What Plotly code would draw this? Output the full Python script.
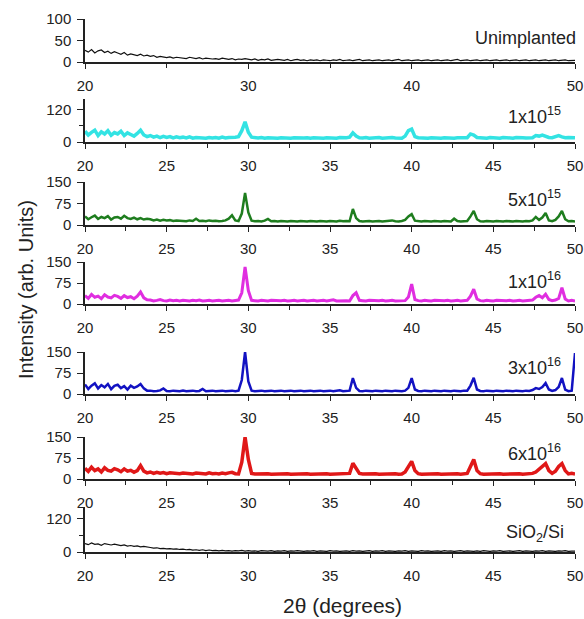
import plotly.graph_objects as go

# 2-theta grid (degrees), 0.2 degree steps from 20 to 50
two_theta = [round(20 + 0.2 * i, 1) for i in range(151)]

unimplanted = [
    27, 23, 29, 21, 26, 28, 22, 25, 20, 24,
    21, 18, 22, 16, 19, 17, 15, 18, 14, 16,
    13, 15, 11, 13, 12, 10, 12, 9, 11, 10,
    10, 8, 11, 9, 8, 10, 7, 9, 8, 7,
    8, 6, 9, 7, 6, 8, 5, 7, 6, 8,
    6, 5, 7, 4, 6, 5, 7, 4, 5, 6,
    5, 4, 6, 3, 5, 6, 4, 5, 3, 5,
    4, 5, 3, 5, 4, 3, 5, 4, 6, 3,
    4, 5, 3, 4, 6, 3, 4, 5, 3, 4,
    5, 3, 4, 5, 3, 4, 6, 3, 4, 5,
    3, 4, 5, 3, 4, 5, 3, 4, 5, 3,
    4, 5, 3, 4, 6, 3, 4, 5, 3, 4,
    5, 3, 4, 5, 3, 4, 5, 3, 4, 5,
    3, 4, 5, 3, 4, 5, 3, 4, 5, 3,
    4, 5, 3, 4, 5, 3, 4, 5, 3, 4,
    4,
]

dose_1e15 = [
    40, 26, 36, 44, 24, 38, 30, 42, 25, 35,
    30, 40, 24, 34, 28, 22, 32, 44, 26, 20,
    24, 18, 22, 16, 21, 17, 20, 15, 19, 16,
    18, 15, 19, 14, 17, 16, 18, 14, 17, 15,
    17, 14, 18, 15, 17, 16, 18, 20, 42, 75,
    36, 18, 16, 15, 17, 14, 16, 15, 17, 14,
    16, 15, 17, 14, 16, 15, 17, 15, 16, 14,
    16, 15, 17, 14, 16, 15, 16, 14, 17, 15,
    16, 18, 34, 22, 16, 15, 17, 14, 16, 15,
    17, 14, 16, 15, 17, 15, 16, 14, 22, 42,
    48, 20, 16, 15, 17, 14, 16, 15, 17, 14,
    16, 15, 17, 14, 16, 15, 17, 16, 30, 26,
    17, 15, 16, 14, 17, 15, 16, 14, 17, 15,
    16, 14, 17, 15, 16, 15, 17, 16, 24, 22,
    26, 20, 17, 16, 20, 24, 19, 16, 17, 15,
    16,
]

dose_5e15 = [
    30, 20, 27, 33, 21, 28, 24, 31, 19, 26,
    28, 22, 32, 24, 21, 26, 20, 24, 19, 22,
    20, 16, 19, 15, 18, 16, 17, 14, 16, 15,
    15, 13, 16, 14, 22, 14, 15, 13, 16, 14,
    15, 13, 14, 16, 22, 34, 16, 14, 40, 112,
    44, 15, 13, 14, 12, 15, 21, 13, 14, 12,
    14, 13, 12, 14, 13, 12, 14, 13, 12, 14,
    13, 12, 14, 13, 12, 14, 13, 12, 15, 13,
    14, 13, 56, 24, 14, 12, 13, 14, 12, 13,
    14, 12, 13, 14, 16, 13, 12, 14, 18, 30,
    38, 15, 13, 12, 14, 13, 12, 14, 13, 12,
    14, 13, 12, 22, 14, 12, 13, 14, 30, 49,
    20, 13, 12, 14, 13, 12, 14, 13, 12, 14,
    13, 12, 14, 13, 12, 14, 13, 16, 28, 18,
    26, 42, 16, 13, 18, 30, 49, 20, 13, 14,
    12,
]

dose_1e16 = [
    30, 20, 34, 24, 28, 19, 33, 25, 22, 31,
    27, 20, 30, 23, 26, 19, 28, 43, 22, 15,
    14, 11, 13, 16, 12, 11, 14, 12, 13, 11,
    13, 12, 11, 13, 12, 14, 11, 12, 13, 11,
    12, 13, 11, 12, 13, 11, 12, 14, 40, 132,
    48, 13, 12, 11, 13, 12, 11, 13, 12, 11,
    12, 13, 11, 12, 13, 11, 12, 13, 11, 12,
    13, 11, 12, 13, 11, 12, 15, 11, 12, 13,
    12, 11, 30, 40, 13, 12, 11, 13, 12, 11,
    12, 13, 11, 12, 13, 11, 12, 13, 12, 25,
    71, 16, 12, 11, 13, 12, 11, 13, 12, 11,
    12, 13, 11, 12, 13, 11, 12, 13, 28, 53,
    18, 12, 11, 13, 12, 11, 13, 12, 11, 12,
    13, 11, 12, 13, 11, 12, 13, 14, 24, 30,
    22, 35, 16, 12, 14, 20, 58, 18, 11, 13,
    11,
]

dose_3e16 = [
    34, 18, 30, 38, 20, 32, 24, 36, 17, 29,
    33, 21, 28, 16, 30, 22, 27, 36, 20, 12,
    12, 10, 11, 13, 20, 11, 10, 12, 11, 10,
    12, 10, 11, 12, 10, 11, 18, 10, 11, 12,
    10, 11, 12, 10, 11, 12, 10, 12, 50, 150,
    45, 12, 10, 11, 12, 10, 11, 12, 10, 11,
    12, 10, 11, 12, 10, 11, 12, 10, 11, 12,
    10, 11, 12, 10, 11, 12, 10, 11, 13, 10,
    11, 12, 57, 22, 11, 10, 12, 11, 10, 12,
    11, 10, 12, 11, 10, 12, 11, 10, 12, 22,
    57, 16, 11, 10, 12, 11, 10, 12, 11, 10,
    12, 11, 10, 12, 11, 10, 12, 12, 30, 58,
    16, 11, 10, 12, 11, 10, 12, 11, 10, 12,
    11, 10, 12, 11, 10, 12, 11, 14, 21, 18,
    25, 39, 16, 11, 14, 25, 57, 16, 10, 12,
    146,
]

dose_6e16 = [
    38, 27, 42, 30, 36, 25, 40, 31, 28, 37,
    33, 26, 36, 28, 31, 24, 30, 48, 28, 22,
    25, 20, 24, 21, 23, 19, 22, 20, 21, 19,
    21, 19, 20, 18, 21, 19, 20, 18, 22, 19,
    20, 18, 21, 19, 22, 24, 19, 18, 60, 150,
    70, 20, 18, 19, 17, 18, 19, 17, 18, 19,
    17, 18, 19, 17, 18, 19, 17, 18, 19, 17,
    18, 19, 17, 18, 19, 17, 18, 19, 20, 18,
    19, 20, 56, 40, 20, 18, 19, 17, 18, 19,
    17, 18, 19, 17, 18, 19, 17, 18, 25, 45,
    63, 30, 19, 17, 18, 19, 17, 18, 19, 17,
    18, 19, 17, 18, 19, 17, 18, 20, 45, 70,
    30, 19, 17, 18, 19, 17, 18, 19, 17, 18,
    19, 17, 18, 19, 17, 18, 19, 20, 25, 35,
    45, 55, 30, 20, 28, 45, 55, 30, 18, 20,
    18,
]

sio2_si = [
    30, 26, 32, 27, 29, 24, 30, 27, 25, 28,
    26, 23, 25, 21, 23, 20, 22, 18, 20, 17,
    16, 14, 15, 12, 13, 11, 12, 10, 11, 9,
    10, 8, 9, 7, 8, 6, 8, 5, 7, 5,
    6, 4, 6, 4, 5, 3, 5, 4, 6, 3,
    5, 3, 4, 2, 5, 4, 3, 5, 2, 4,
    3, 5, 2, 4, 3, 5, 4, 2, 4, 3,
    5, 2, 4, 3, 2, 5, 3, 4, 2, 3,
    4, 2, 5, 3, 4, 2, 3, 5, 2, 4,
    3, 5, 2, 4, 3, 2, 4, 3, 5, 2,
    4, 3, 2, 5, 3, 4, 2, 3, 4, 2,
    5, 3, 4, 2, 3, 5, 2, 4, 3, 2,
    4, 2, 5, 3, 2, 4, 3, 5, 2, 3,
    4, 2, 3, 5, 2, 4, 3, 2, 4, 3,
    5, 2, 4, 3, 2, 4, 3, 5, 2, 3,
    3,
]

labels = ["Unimplanted", "1x10<sup>15</sup>", "5x10<sup>15</sup>", "1x10<sup>16</sup>",
          "3x10<sup>16</sup>", "6x10<sup>16</sup>", "SiO<sub>2</sub>/Si"]
series = [unimplanted, dose_1e15, dose_5e15, dose_1e16, dose_3e16, dose_6e16, sio2_si]
colors = ["#111111", "#33e3e3", "#1e7d1e", "#e02ee0", "#1212c2", "#e01818", "#111111"]
widths = [1.2, 3.5, 2.5, 3, 2.5, 3.5, 1.2]
y_ranges = [[0, 100], [0, 160], [0, 150], [0, 150], [0, 150], [0, 150], [0, 160]]
y_ticks = [[0, 50, 100], [0, 120], [0, 75, 150], [0, 75, 150], [0, 75, 150], [0, 75, 150], [0, 120]]
y_minor = [[], [60], [], [], [], [], [60]]

W, H = 584, 619
ML, MR = 85, 9
# panel pixel extents (top, bottom)
panels_px = [(19, 62), (99, 142), (182, 225), (262, 304), (352, 394), (437, 479), (507, 552)]
label_y_px = [38, 116, 198, 280, 366, 452, 533]
label_x = [578, 563, 563, 563, 563, 563, 566]

FONT = "Liberation Sans, Arial, sans-serif"
INK = "#222222"

fig = go.Figure()
layout = dict(
    width=W, height=H,
    margin=dict(l=ML, r=MR, t=0, b=0, autoexpand=False),
    paper_bgcolor="white", plot_bgcolor="white",
    showlegend=False,
    font=dict(family=FONT, size=15, color=INK),
)

for i, (ys, c, w) in enumerate(zip(series, colors, widths)):
    n = i + 1
    xa = "x" if n == 1 else f"x{n}"
    ya = "y" if n == 1 else f"y{n}"
    fig.add_trace(go.Scatter(x=two_theta, y=ys, mode="lines", xaxis=xa, yaxis=ya,
                             line=dict(color=c, width=w)))
    top, bot = panels_px[i]
    dom = [1 - bot / H, 1 - top / H]
    if n == 1:
        xdt, xminor = 10, 5
    else:
        xdt, xminor = 5, 2.5
    layout[f"xaxis{'' if n == 1 else n}"] = dict(
        domain=[0, 1], anchor=ya, range=[20, 50], automargin=False,
        tickmode="linear", tick0=20, dtick=xdt,
        ticks="outside", ticklen=5, tickwidth=1.2, tickcolor=INK,
        minor=dict(tick0=20, dtick=xminor, ticks="outside", ticklen=4, tickwidth=1.2, tickcolor=INK),
        showline=True, linecolor=INK, linewidth=1.5,
        showgrid=False, zeroline=False,
        tickfont=dict(size=15), ticklabelstandoff=4, ticklabeloverflow="allow",
    )
    ydict = dict(
        domain=dom, anchor=xa, range=y_ranges[i], automargin=False,
        tickmode="array", tickvals=y_ticks[i],
        ticks="outside", ticklen=6, tickwidth=1.2, tickcolor=INK,
        showline=True, linecolor=INK, linewidth=1.5,
        showgrid=False, zeroline=False,
        tickfont=dict(size=15), ticklabelstandoff=3, ticklabeloverflow="allow",
    )
    if y_minor[i]:
        ydict["minor"] = dict(tickmode="array", tickvals=y_minor[i], ticks="outside",
                              ticklen=4, tickwidth=1.2, tickcolor=INK)
    layout[f"yaxis{'' if n == 1 else n}"] = ydict

PW = W - ML - MR
annotations = []
for i, lab in enumerate(labels):
    annotations.append(dict(
        text=lab, xref="paper", yref="paper",
        x=(label_x[i] - ML) / PW, y=1 - label_y_px[i] / H,
        xanchor="right", yanchor="middle", showarrow=False,
        font=dict(family=FONT, size=18, color=INK),
    ))
annotations.append(dict(
    text="Intensity (arb. Units)", xref="paper", yref="paper",
    x=(26 - ML) / PW, y=1 - 290 / H, textangle=-90,
    xanchor="center", yanchor="middle", showarrow=False,
    font=dict(family=FONT, size=20, color=INK),
))
annotations.append(dict(
    text="2θ (degrees)", xref="paper", yref="paper",
    x=(342 - ML) / PW, y=1 - 605 / H,
    xanchor="center", yanchor="middle", showarrow=False,
    font=dict(family=FONT, size=21, color=INK),
))
layout["annotations"] = annotations
fig.update_layout(**layout)

fig.write_html("out.html")
